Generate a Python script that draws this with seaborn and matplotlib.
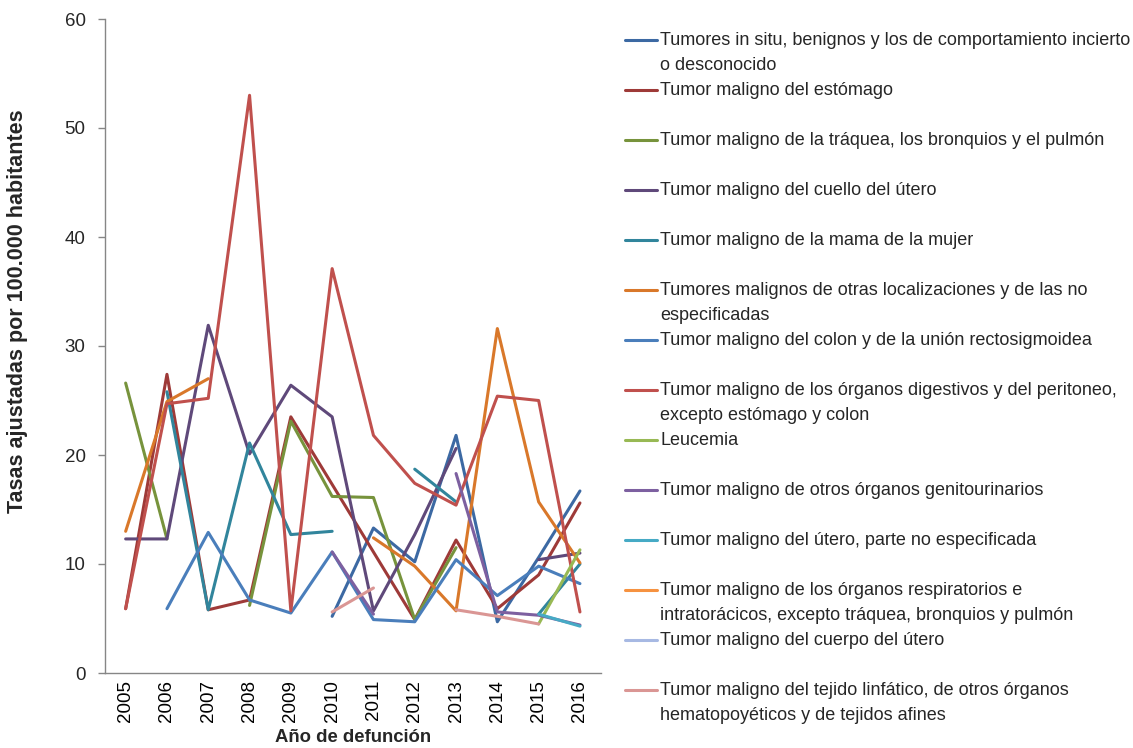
import numpy as np
import pandas as pd
import matplotlib
matplotlib.use("Agg")
import matplotlib.pyplot as plt
from matplotlib.lines import Line2D
import seaborn as sns

nan = np.nan

years = ["2005", "2006", "2007", "2008", "2009", "2010",
         "2011", "2012", "2013", "2014", "2015", "2016"]

series_names = [
    "Tumores in situ, benignos y los de comportamiento incierto\no desconocido",
    "Tumor maligno del estómago",
    "Tumor maligno de la tráquea, los bronquios y el pulmón",
    "Tumor maligno del cuello del útero",
    "Tumor maligno de la mama de la mujer",
    "Tumores malignos de otras localizaciones y de las no\nespecificadas",
    "Tumor maligno del colon y de la unión rectosigmoidea",
    "Tumor maligno de los órganos digestivos y del peritoneo,\nexcepto estómago y colon",
    "Leucemia",
    "Tumor maligno de otros órganos genitourinarios",
    "Tumor maligno del útero, parte no especificada",
    "Tumor maligno de los órganos respiratorios e\nintratorácicos, excepto tráquea, bronquios y pulmón",
    "Tumor maligno del cuerpo del útero",
    "Tumor maligno del tejido linfático, de otros órganos\nhematopoyéticos y de tejidos afines",
]

in_situ        = [nan, nan, nan, nan, nan, 5.2, 13.3, 10.2, 21.8, 4.7, 10.6, 16.7]
estomago       = [5.9, 27.4, 5.8, 6.7, 23.5, 17.3, 11.1, 4.9, 12.2, 5.9, 9.0, 15.6]
traquea        = [26.6, 12.3, nan, 6.2, 23.1, 16.2, 16.1, 4.9, 11.5, nan, nan, nan]
cuello         = [12.3, 12.3, 31.9, 20.1, 26.4, 23.5, 5.7, 12.7, 20.6, nan, 10.4, 11.0]
mama           = [nan, 25.8, 5.8, 21.1, 12.7, 13.0, nan, 18.7, 15.7, nan, 5.4, 10.0]
otras          = [13.0, 24.9, 27.0, nan, nan, nan, 12.4, 9.8, 5.7, 31.6, 15.7, 10.1]
colon          = [nan, 5.9, 12.9, 6.7, 5.5, 11.1, 4.9, 4.7, 10.4, 7.1, 9.8, 8.2]
digestivos     = [5.9, 24.7, 25.2, 53.0, 5.7, 37.1, 21.8, 17.4, 15.4, 25.4, 25.0, 5.6]
leucemia       = [nan, nan, nan, nan, nan, nan, nan, nan, nan, nan, 4.5, 11.3]
genitourinario = [nan, nan, nan, nan, nan, 11.1, 5.4, nan, 18.3, 5.6, 5.3, 4.4]
utero_ne       = [nan, nan, nan, nan, nan, nan, nan, nan, nan, nan, 5.4, 4.3]
respiratorios  = [nan] * 12
cuerpo_utero   = [nan] * 12
linfatico      = [nan, nan, nan, nan, nan, 5.6, 7.8, nan, 5.8, 5.2, 4.5, nan]

series_values = [in_situ, estomago, traquea, cuello, mama, otras, colon,
                 digestivos, leucemia, genitourinario, utero_ne,
                 respiratorios, cuerpo_utero, linfatico]

colors = ["#3C69A3", "#9E3A38", "#77933C", "#5F497A", "#31859C", "#D9782A",
          "#4A7EBB", "#C0504D", "#98B954", "#7D60A0", "#46AAC5", "#F69240",
          "#A7B9E3", "#DA9694"]

# long-form data, with segment ids so gaps (missing years) break the lines
rows = []
seg = 0
for name, vals in zip(series_names, series_values):
    prev = False
    for i, v in enumerate(vals):
        if np.isnan(v):
            prev = False
            continue
        if not prev:
            seg += 1
        prev = True
        rows.append({"x": i, "valor": v, "serie": name, "seg": seg})
df = pd.DataFrame(rows)

sns.set_theme(style="white")
plt.rcParams["font.family"] = ["Liberation Sans", "DejaVu Sans"]

W, H = 1133, 748
fig = plt.figure(figsize=(W / 100, H / 100), dpi=100)
ax = fig.add_axes([105 / W, (H - 673) / H, 495.6 / W, 654 / H])

palette = dict(zip(series_names, colors))
present = [n for n in series_names if n in set(df["serie"])]
sns.lineplot(data=df, x="x", y="valor", hue="serie", units="seg",
             estimator=None, palette={k: palette[k] for k in present},
             hue_order=present, linewidth=2.2, legend=False, ax=ax, sort=True)

grey = "#868686"
ax.set_xlim(-0.5, len(years) - 0.5)
ax.set_ylim(0, 60)
ax.set_yticks(range(0, 61, 10))
ax.set_xticks(range(len(years)))
ax.set_xticklabels(years, rotation=90)
ax.set_xticks(np.arange(-0.5, len(years), 1.0), minor=True)
ax.tick_params(axis="x", which="major", length=0, pad=5, labelsize=13.5, colors="black")
ax.tick_params(axis="x", which="minor", length=7, width=1, color=grey, direction="out")
ax.tick_params(axis="y", which="major", length=5, width=1, color=grey, direction="out",
               labelsize=13.5, pad=9, left=True)
for s in ["top", "right"]:
    ax.spines[s].set_visible(False)
for s in ["left", "bottom"]:
    ax.spines[s].set_color(grey)
    ax.spines[s].set_linewidth(1)
ax.grid(False)

ax.set_xlabel("Año de defunción", fontsize=13.3, fontweight="bold")
ax.set_ylabel("Tasas ajustadas por 100.000 habitantes", fontsize=15.5, fontweight="bold")
ax.xaxis.set_label_coords(0.5, -0.086)
ax.yaxis.set_label_coords(-0.155, 0.553)

# legend (Excel-like evenly spaced entries)
for i, (name, col) in enumerate(zip(series_names, colors)):
    y = 40 + 50 * i
    fig.add_artist(Line2D([625 / W, 657 / W], [1 - y / H, 1 - y / H],
                          color=col, lw=2.2, transform=fig.transFigure))
    fig.text(660 / W, 1 - (y - 8) / H, name, fontsize=13, va="top", ha="left",
             linespacing=1.62)

fig.savefig("out.png", dpi=100)
